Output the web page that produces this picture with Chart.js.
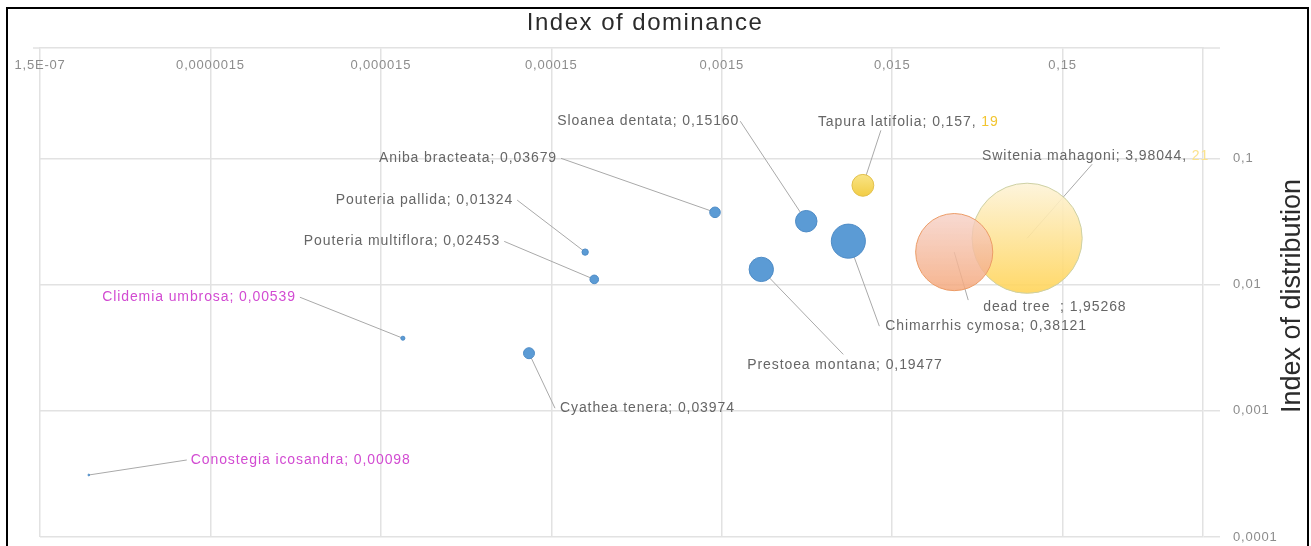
<!DOCTYPE html>
<html>
<head>
<meta charset="utf-8">
<title>Index of dominance</title>
<script src="https://cdn.jsdelivr.net/npm/chart.js@4.4.1/dist/chart.umd.min.js"></script>
<style>
  html, body { margin: 0; padding: 0; background: #fff; overflow: hidden; }
  #marco { position: absolute; left: 6px; top: 7px; width: 1303px; height: 600px; border: 2px solid #000; box-sizing: border-box; }
  #wrap { position: absolute; left: 0; top: 0; width: 1311px; height: 546px; }
</style>
</head>
<body>
<div id="marco"></div>
<div id="wrap"><canvas id="burbujas"></canvas></div>
<script>
// 1. Datos: especies, índice de dominancia (x), índice de distribución (y) y valor de la etiqueta (tamaño)
const especies = ["Switenia mahagoni", "dead tree  ", "Tapura latifolia", "Chimarrhis cymosa", "Sloanea dentata",
                  "Prestoea montana", "Aniba bracteata", "Pouteria multiflora", "Pouteria pallida",
                  "Cyathea tenera", "Clidemia umbrosa", "Conostegia icosandra"];
const dominancia = [0.0929, 0.0347, 0.0101, 0.0083, 0.0047, 0.00256, 0.00137, 0.000268, 0.000237, 0.000111, 0.0000202, 0.00000029];
const distribucion = [0.0233, 0.0181, 0.0612, 0.0221, 0.0318, 0.0132, 0.0374, 0.0110, 0.0181, 0.00286, 0.00376, 0.00031];
const valorEtiqueta = ["3,98044", "1,95268", "0,157", "0,38121", "0,15160", "0,19477", "0,03679", "0,02453", "0,01324", "0,03974", "0,00539", "0,00098"];
const extraEtiqueta = ["21", "", "19", "", "", "", "", "", "", "", "", ""];

const ticksX = [1.5e-7, 1.5e-6, 1.5e-5, 1.5e-4, 1.5e-3, 1.5e-2, 0.15];
const etiquetasX = ["1,5E-07", "0,0000015", "0,000015", "0,00015", "0,0015", "0,015", "0,15"];
const ticksY = [0.0001, 0.001, 0.01, 0.1];
const etiquetasY = ["0,0001", "0,001", "0,01", "0,1"];

// 2. Estilos
const FUENTE = "'Liberation Sans', Arial, sans-serif";
const GRIS_REJILLA = "#e2e2e2";
const ESCALA_BURBUJA = 27.6;   // radio = escala * raíz(valor)
const AZUL = "#5b9bd5", AZUL_BORDE = "#4f8cc6";

const estilos = [
    { grad: ["rgba(253,243,216,0.9)", "rgba(255,212,88,0.9)"], borde: "#cdd0a4" },
    { grad: ["rgba(246,208,198,0.8)", "rgba(244,168,124,0.85)"], borde: "#eb9b66" },
    { grad: ["#f9e486", "#f2cd45"], borde: "#e2c04c" }
];
while (estilos.length < especies.length) estilos.push({ fill: AZUL, borde: AZUL_BORDE });

const colorTexto = especies.map(e => (e.startsWith("Clidemia") || e.startsWith("Conostegia")) ? "#d24bd2" : "#666666");

// posición de cada etiqueta respecto a su burbuja (texto y final de la línea guía)
const posEtiquetas = [
    { dx: -45, dy: -82, align: "left", lx: 65, ly: -74 },
    { dx: 29, dy: 55, align: "left", lx: 14, ly: 48 },
    { dx: -45, dy: -63, align: "left", lx: 18, ly: -55 },
    { dx: 37, dy: 85, align: "left", lx: 31, ly: 85 },
    { dx: -249, dy: -100, align: "left", lx: -66, ly: -100 },
    { dx: -14, dy: 96, align: "left", lx: 82, ly: 85 },
    { dx: -158, dy: -54, align: "right", lx: -154, ly: -54 },
    { dx: -94, dy: -38, align: "right", lx: -90, ly: -38 },
    { dx: -72, dy: -52, align: "right", lx: -68, ly: -52 },
    { dx: 31, dy: 55, align: "left", lx: 26, ly: 55 },
    { dx: -107, dy: -41, align: "right", lx: -103, ly: -41 },
    { dx: 102, dy: -15, align: "left", lx: 98, ly: -15 }
];

const aNumero = s => parseFloat(s.replace(",", "."));

const burbujas = especies.map((e, i) => ({
    x: dominancia[i],
    y: distribucion[i],
    r: ESCALA_BURBUJA * Math.sqrt(aNumero(valorEtiqueta[i]))
}));

function relleno(c) {
    const i = c.dataIndex;
    if (i === undefined) return AZUL;
    const est = estilos[i];
    if (!est.grad) return est.fill;
    const y = c.chart.scales.y.getPixelForValue(distribucion[i]);
    const r = burbujas[i].r;
    if (!isFinite(y)) return est.grad[1];
    const g = c.chart.ctx.createLinearGradient(0, y - r, 0, y + r);
    g.addColorStop(0, est.grad[0]);
    g.addColorStop(1, est.grad[1]);
    return g;
}

function textoPartes(ctx, partes, x, y, align) {
    const total = partes.reduce((s, p) => s + ctx.measureText(p.t).width, 0);
    let cx = align === "right" ? x - total : x;
    ctx.textAlign = "left";
    partes.forEach(p => {
        ctx.fillStyle = p.c;
        ctx.fillText(p.t, cx, y);
        cx += ctx.measureText(p.t).width;
    });
}

// 3. Plugin: líneas guía, etiquetas, títulos y etiquetas del eje superior
const rotulos = {
    id: "rotulos",
    beforeDraw(chart) {
        chart.ctx.letterSpacing = "0.8px";
    },
    beforeDatasetsDraw(chart) {
        const ctx = chart.ctx;
        const meta = chart.getDatasetMeta(0);
        ctx.save();
        ctx.strokeStyle = "#a9a9a9";
        ctx.lineWidth = 1;
        meta.data.forEach((p, i) => {
            const o = posEtiquetas[i];
            ctx.beginPath();
            ctx.moveTo(p.x, p.y);
            ctx.lineTo(p.x + o.lx, p.y + o.ly);
            ctx.stroke();
        });
        ctx.restore();
    },
    afterDatasetsDraw(chart) {
        const ctx = chart.ctx;
        const meta = chart.getDatasetMeta(0);
        ctx.save();
        ctx.font = "14px " + FUENTE;
        ctx.letterSpacing = "0.9px";
        ctx.textBaseline = "middle";
        meta.data.forEach((p, i) => {
            const o = posEtiquetas[i];
            const partes = [{ t: especies[i] + "; " + valorEtiqueta[i] + (extraEtiqueta[i] ? ", " : ""), c: colorTexto[i] }];
            if (extraEtiqueta[i]) partes.push({ t: extraEtiqueta[i], c: i === 0 ? "#fbe38e" : "#f2c530" });
            textoPartes(ctx, partes, p.x + o.dx, p.y + o.dy, o.align);
        });
        ctx.restore();
    },
    afterDraw(chart) {
        const ctx = chart.ctx;
        const { top, left, right } = chart.chartArea;
        const x = chart.scales.x;
        ctx.save();
        // prolongación de la línea superior
        ctx.strokeStyle = GRIS_REJILLA;
        ctx.lineWidth = 1.5;
        ctx.beginPath();
        ctx.moveTo(left - 7, top); ctx.lineTo(left, top);
        ctx.moveTo(right, top); ctx.lineTo(right + 17, top);
        ctx.stroke();

        ctx.font = "13px " + FUENTE;
        ctx.letterSpacing = "0.8px";
        ctx.fillStyle = "#8c8c8c";
        ctx.textAlign = "center";
        ctx.textBaseline = "middle";
        ticksX.forEach((v, i) => ctx.fillText(etiquetasX[i], x.getPixelForValue(v), top + 17));

        ctx.fillStyle = "#2b2b2b";
        ctx.font = "24px " + FUENTE;
        ctx.letterSpacing = "1.5px";
        ctx.textBaseline = "alphabetic";
        ctx.fillText("Index of dominance", 645, 30);

        ctx.font = "27px " + FUENTE;
        ctx.letterSpacing = "0px";
        ctx.translate(1300, 296);
        ctx.rotate(-Math.PI / 2);
        ctx.fillText("Index of distribution", 0, 0);
        ctx.restore();
    }
};

// 4. Gráfico de burbujas
const ctx = document.getElementById("burbujas").getContext("2d");
const grafico = new Chart(ctx, {
    type: "bubble",
    data: {
        datasets: [{
            data: burbujas,
            backgroundColor: relleno,
            borderColor: c => c.dataIndex === undefined ? AZUL_BORDE : estilos[c.dataIndex].borde,
            borderWidth: 1,
            hoverRadius: 0
        }]
    },
    options: {
        responsive: true,
        maintainAspectRatio: false,
        animation: false,
        events: [],
        layout: { autoPadding: false, padding: { left: 40, top: 48, right: 0, bottom: 9 } },
        plugins: { legend: { display: false }, tooltip: { enabled: false } },
        scales: {
            x: {
                type: "logarithmic",
                position: "top",
                min: 1.5e-7,
                max: 1,
                ticks: { display: false },
                grid: { color: GRIS_REJILLA, lineWidth: 1.5, drawTicks: false },
                border: { color: GRIS_REJILLA, width: 1.5 },
                afterBuildTicks: s => { s.ticks = ticksX.map(v => ({ value: v })); },
                afterFit: s => { s.height = 0; }
            },
            y: {
                type: "logarithmic",
                position: "right",
                min: 0.0001,
                max: 0.75,
                ticks: {
                    padding: 13,
                    color: "#8c8c8c",
                    font: { size: 13, family: FUENTE },
                    callback: v => etiquetasY[ticksY.indexOf(v)]
                },
                grid: { color: GRIS_REJILLA, lineWidth: 1.5, tickLength: 17 },
                border: { color: GRIS_REJILLA, width: 1.5 },
                afterBuildTicks: s => { s.ticks = ticksY.map(v => ({ value: v })); },
                afterFit: s => { s.width = 108; s.paddingTop = 8; s.paddingBottom = 8; }
            }
        }
    },
    plugins: [rotulos]
});
</script>
</body>
</html>
